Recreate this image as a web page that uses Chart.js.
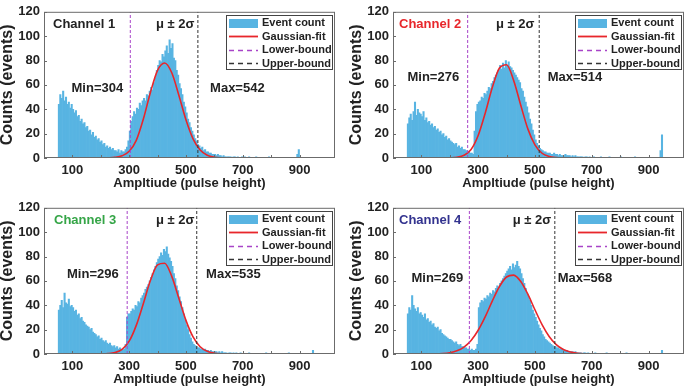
<!DOCTYPE html>
<html lang="en">
<head>
<meta charset="UTF-8">
<title>Channel amplitude histograms</title>
<script src="https://cdn.jsdelivr.net/npm/chart.js"></script>
<style>
    body {
        margin: 0;
        width: 685px;
        height: 389px;
        overflow: hidden;
        position: relative;
        background: #fff;
        font-family: "Liberation Sans", Arial, sans-serif;
    }
    .panel {
        position: absolute;
        width: 340px;
        height: 195px;
    }
</style>
</head>
<body>

<div class="panel" style="left:0;top:0"><canvas id="ch1"></canvas></div>
<div class="panel" style="left:349px;top:0"><canvas id="ch2"></canvas></div>
<div class="panel" style="left:0;top:196px"><canvas id="ch3"></canvas></div>
<div class="panel" style="left:349px;top:196px"><canvas id="ch4"></canvas></div>

<script>
    // histogram bins: 5 wide, first bin starts at 50
    const binStart = 50;
    const binWidth = 5;

    const ch1Counts = [
        44, 52, 49, 55, 47, 50, 44, 46, 41, 44,
        40, 37, 39, 34, 35, 30, 32, 28, 29, 25,
        26, 22, 23, 19, 21, 17, 18, 15, 16, 13,
        14, 11, 12, 9, 10, 8, 9, 7, 8, 6,
        6, 5, 7, 4, 6, 5, 5, 7, 9, 14,
        22, 30, 34, 38, 36, 41, 40, 45, 43, 47,
        49, 47, 52, 51, 55, 58, 56, 62, 66, 72,
        76, 80, 79, 85, 83, 88, 92, 86, 97, 90,
        94, 82, 80, 72, 68, 61, 57, 52, 46, 42,
        37, 32, 29, 25, 22, 19, 16, 14, 11, 10,
        8, 9, 6, 7, 5, 5, 4, 4, 3, 3,
        3, 2, 3, 2, 2, 1, 2, 1, 1, 1,
        1, 1, 0, 1, 1, 0, 1, 0, 0, 1
    ];
    const ch2Counts = [
        28, 33, 36, 31, 38, 46, 35, 40, 37, 36,
        34, 38, 31, 33, 29, 30, 27, 28, 25, 26,
        23, 24, 21, 22, 19, 20, 17, 18, 15, 16,
        14, 13, 12, 11, 12, 9, 10, 8, 9, 7,
        7, 6, 5, 5, 4, 4, 3, 22, 38, 44,
        46, 47, 50, 49, 53, 52, 55, 58, 57, 61,
        63, 66, 68, 70, 72, 76, 73, 78, 74, 80,
        76, 79, 75, 74, 72, 70, 68, 66, 64, 62,
        57, 55, 50, 46, 42, 37, 32, 28, 23, 19,
        15, 12, 10, 8, 7, 6, 5, 5, 4, 4,
        4, 3, 3, 4, 3, 3, 2, 3, 2, 2,
        2, 3, 2, 2, 2, 1, 2, 1, 2, 1,
        1, 1, 1, 1, 0, 1, 1, 0, 1, 0
    ];
    const ch3Counts = [
        36, 40, 44, 38, 50, 42, 41, 45, 39, 40,
        38, 35, 36, 32, 33, 29, 30, 27, 26, 24,
        23, 22, 20, 21, 18, 17, 16, 14, 15, 12,
        13, 11, 10, 11, 9, 8, 9, 7, 6, 7,
        5, 6, 4, 5, 4, 3, 4, 8, 30, 33,
        33, 35, 37, 36, 40, 39, 43, 42, 46, 48,
        50, 53, 55, 57, 60, 63, 66, 69, 72, 75,
        78, 80, 83, 81, 86, 84, 88, 82, 79, 76,
        72, 66, 62, 56, 52, 47, 43, 38, 33, 28,
        24, 20, 16, 13, 10, 8, 7, 6, 5, 5,
        4, 4, 3, 4, 3, 3, 2, 3, 2, 2,
        2, 2, 1, 2, 1, 2, 1, 1, 1, 0,
        1, 1, 0, 1, 0, 1, 0, 0, 1, 0
    ];
    const ch4Counts = [
        33, 38, 36, 48, 40, 37, 35, 38, 33, 34,
        32, 30, 33, 28, 29, 26, 27, 24, 25, 22,
        21, 22, 19, 20, 17, 16, 15, 14, 13, 12,
        12, 11, 10, 9, 10, 8, 7, 8, 6, 6,
        5, 5, 4, 4, 3, 4, 3, 3, 4, 8,
        38, 42, 44, 43, 46, 45, 48, 47, 50, 49,
        52, 51, 54, 56, 55, 58, 60, 62, 64, 66,
        68, 70, 72, 69, 74, 71, 73, 76, 72, 70,
        66, 62, 58, 54, 50, 47, 44, 40, 36, 33,
        30, 27, 24, 21, 19, 16, 14, 12, 11, 10,
        9, 8, 7, 6, 6, 5, 5, 4, 4, 4,
        3, 3, 3, 2, 2, 2, 2, 1, 2, 1,
        1, 1, 1, 0, 1, 1, 0, 1, 0, 0
    ];

    // sparse counts above 700 as [bin start, count]
    const ch1Tail = [[705, 1], [720, 1], [745, 1], [790, 1], [890, 3], [895, 7]];
    const ch2Tail = [[705, 1], [730, 1], [760, 1], [800, 1], [850, 1], [940, 6], [945, 19]];
    const ch3Tail = [[720, 1], [780, 1], [860, 1], [945, 3]];
    const ch4Tail = [[710, 1], [750, 1], [820, 1], [945, 3]];

    // gaussian fit curves
    const fitX = [0, 150, 175, 200, 225, 250, 275, 300, 325, 350, 375, 400, 425, 450, 475, 500, 525, 550, 575, 600, 625, 650, 675, 700, 1025];
    const ch1Fit = [0, 0, 0, 0.05, 0.15, 0.5, 1.8, 5.5, 14.5, 32, 54, 72, 78, 70, 51.5, 31.3, 15.7, 6.5, 2.2, 0.6, 0.15, 0.03, 0, 0, 0];
    const ch2Fit = [0, 0, 0.02, 0.15, 0.6, 2.2, 7, 18.5, 37, 58, 73.8, 76.5, 63.6, 43.3, 23.9, 10.8, 3.9, 1.2, 0.28, 0.05, 0, 0, 0, 0, 0];
    const ch3Fit = [0, 0, 0.03, 0.1, 0.35, 1.2, 3.8, 10.5, 23.5, 41.5, 60.5, 73.2, 74.5, 63.7, 45.8, 27.6, 14, 6, 2.2, 0.65, 0.16, 0.03, 0, 0, 0];
    const ch4Fit = [0, 0.13, 0.39, 1.07, 2.6, 5.7, 11.1, 19.5, 30.7, 43.6, 55.4, 63.2, 64.7, 59.5, 49.1, 36.3, 24.1, 14.4, 7.7, 3.7, 1.6, 0.6, 0.2, 0.07, 0];

    // mu +/- 2 sigma bounds
    const minValues = [304, 276, 296, 269];
    const maxValues = [542, 514, 535, 568];
    const lowerLines = [304, 263, 293, 269];
    const upperLines = [542, 515, 538, 570];

    const channelNames = ['Channel 1', 'Channel 2', 'Channel 3', 'Channel 4'];
    const channelColors = ['#222222', '#e8262b', '#35a547', '#33338f'];

    const FONT = '"Liberation Sans", Arial, sans-serif';
    const TEXT = '#222222';

    // text placement, in data units of each panel
    const notes = [
        { nameDx: 9, topY: 109.5, sigX: 530, minX: 279, maxX: 585, noteY: 57 },
        { nameDx: 6, topY: 109.5, sigX: 498, minX: 233, maxX: 545, noteY: 66 },
        { nameDx: 10, topY: 109.5, sigX: 530, minX: 263, maxX: 571, noteY: 65 },
        { nameDx: 6, topY: 109.5, sigX: 557, minX: 247, maxX: 580, noteY: 62 }
    ];

    // frame, inward ticks, annotations and legend
    const panelDecor = {
        id: 'panelDecor',
        afterDatasetsDraw(chart, args, opts) {
            const { ctx, chartArea: a, scales: { x, y } } = chart;
            ctx.save();
            ctx.strokeStyle = '#6b6b6b';
            ctx.lineWidth = 1;
            ctx.setLineDash([]);
            ctx.strokeRect(a.left + 0.5, a.top + 0.5, a.right - a.left - 1, a.bottom - a.top - 1);
            ctx.beginPath();
            x.ticks.forEach(t => {
                if (t.value % 100 !== 0) return;
                const px = Math.round(x.getPixelForValue(t.value)) + 0.5;
                ctx.moveTo(px, a.bottom);
                ctx.lineTo(px, a.bottom - 3);
            });
            y.ticks.forEach(t => {
                const py = Math.round(y.getPixelForValue(t.value)) + 0.5;
                ctx.moveTo(a.left, py);
                ctx.lineTo(a.left + 3, py);
            });
            ctx.stroke();

            ctx.font = 'bold 13px ' + FONT;
            ctx.textBaseline = 'middle';
            const ty = y.getPixelForValue(opts.topY);
            const ny = y.getPixelForValue(opts.noteY);
            ctx.textAlign = 'left';
            ctx.fillStyle = opts.color;
            ctx.fillText(opts.name, a.left + opts.nameDx, ty);
            ctx.fillStyle = TEXT;
            ctx.textAlign = 'right';
            ctx.fillText('\u03bc \u00b1 2\u03c3', x.getPixelForValue(opts.sigX), ty);
            ctx.fillText('Min=' + opts.min, x.getPixelForValue(opts.minX), ny);
            ctx.textAlign = 'left';
            ctx.fillText('Max=' + opts.max, x.getPixelForValue(opts.maxX), ny);
            ctx.restore();
        },
        afterDraw(chart) {
            const { ctx, chartArea: a } = chart;
            const w = 106, h = 54;
            const bx = Math.round(a.right - 3 - w), by = Math.round(a.top + 3);
            ctx.save();
            ctx.fillStyle = '#fff';
            ctx.fillRect(bx, by, w, h);
            ctx.strokeStyle = '#444';
            ctx.lineWidth = 1;
            ctx.strokeRect(bx + 0.5, by + 0.5, w, h);
            ctx.font = 'bold 11px ' + FONT;
            ctx.textBaseline = 'middle';
            ctx.textAlign = 'left';
            chart.data.datasets.forEach((ds, i) => {
                const cy = by + 7.5 + i * 13.6;
                const sx = bx + 3, sw = 29;
                if (ds.type === 'line') {
                    ctx.setLineDash(ds.legendDash || []);
                    ctx.strokeStyle = ds.borderColor;
                    ctx.lineWidth = ds.type === 'line' && !ds.legendDash ? 1.8 : 1.4;
                    ctx.beginPath();
                    ctx.moveTo(sx, Math.round(cy) + 0.5);
                    ctx.lineTo(sx + sw, Math.round(cy) + 0.5);
                    ctx.stroke();
                } else {
                    ctx.fillStyle = ds.backgroundColor;
                    ctx.fillRect(sx, Math.round(cy) - 4, sw, 9);
                }
                ctx.setLineDash([]);
                ctx.fillStyle = TEXT;
                ctx.fillText(ds.label, sx + sw + 4, cy + 0.5);
            });
            ctx.restore();
        }
    };

    function makePanel(i, canvasId, counts, tail, fit) {
        const hist = counts.map((c, k) => ({ x: binStart + binWidth * (k + 0.5), y: c }))
            .concat(tail.map(([b, c]) => ({ x: b + binWidth / 2, y: c })));
        const lo = lowerLines[i], hi = upperLines[i];

        new Chart(document.getElementById(canvasId), {
            type: 'bar',
            data: {
                datasets: [
                    {
                        type: 'bar', label: 'Event count', data: hist,
                        backgroundColor: '#58b4e2', borderWidth: 0,
                        barPercentage: 1, categoryPercentage: 1, order: 3
                    },
                    {
                        type: 'line', label: 'Gaussian-fit',
                        data: fitX.map((x, k) => ({ x: x, y: fit[k] })),
                        borderColor: '#e8262b', borderWidth: 1.6, pointRadius: 0,
                        cubicInterpolationMode: 'monotone', order: 2
                    },
                    {
                        type: 'line', label: 'Lower-bound',
                        data: [{ x: lo, y: 0 }, { x: lo, y: 120 }],
                        borderColor: '#a844c8', borderWidth: 1, borderDash: [3, 2],
                        legendDash: [5, 4], pointRadius: 0, order: 1
                    },
                    {
                        type: 'line', label: 'Upper-bound',
                        data: [{ x: hi, y: 0 }, { x: hi, y: 120 }],
                        borderColor: '#333333', borderWidth: 1, borderDash: [3, 2],
                        legendDash: [5, 4], pointRadius: 0, order: 1
                    }
                ]
            },
            options: {
                responsive: true,
                maintainAspectRatio: false,
                animation: false,
                layout: { padding: { top: 6, right: 5, left: 0, bottom: 0 } },
                plugins: {
                    legend: { display: false },
                    tooltip: { enabled: false },
                    panelDecor: Object.assign({
                        name: channelNames[i], color: channelColors[i],
                        min: minValues[i], max: maxValues[i]
                    }, notes[i])
                },
                scales: {
                    x: {
                        type: 'linear', min: 0, max: 1025, offset: false,
                        grid: { display: false, drawTicks: false },
                        border: { display: false },
                        ticks: {
                            stepSize: 100, autoSkip: false, maxRotation: 0, padding: 5,
                            color: TEXT, font: { family: FONT, size: 13, weight: 'bold' },
                            callback: v => (v % 200 === 100 ? v : '')
                        },
                        title: {
                            display: true, text: 'Ampltiude (pulse height)', color: TEXT,
                            font: { family: FONT, size: 13, weight: 'bold', lineHeight: 1.2 },
                            padding: { top: 0, bottom: 4 }
                        },
                        afterFit: s => { s.height = 37; }
                    },
                    y: {
                        min: 0, max: 120,
                        grid: { display: false, drawTicks: false },
                        border: { display: false },
                        ticks: {
                            stepSize: 20, padding: 4, color: TEXT,
                            font: { family: FONT, size: 13, weight: 'bold' }
                        },
                        title: {
                            display: true, text: 'Counts (events)', color: TEXT,
                            font: { family: FONT, size: 16, weight: 'bold', lineHeight: 1 },
                            padding: { top: 0, bottom: 0 }
                        },
                        afterFit: s => { s.width = 44; }
                    }
                }
            },
            plugins: [panelDecor]
        });
    }

    makePanel(0, 'ch1', ch1Counts, ch1Tail, ch1Fit);
    makePanel(1, 'ch2', ch2Counts, ch2Tail, ch2Fit);
    makePanel(2, 'ch3', ch3Counts, ch3Tail, ch3Fit);
    makePanel(3, 'ch4', ch4Counts, ch4Tail, ch4Fit);
</script>

</body>
</html>
